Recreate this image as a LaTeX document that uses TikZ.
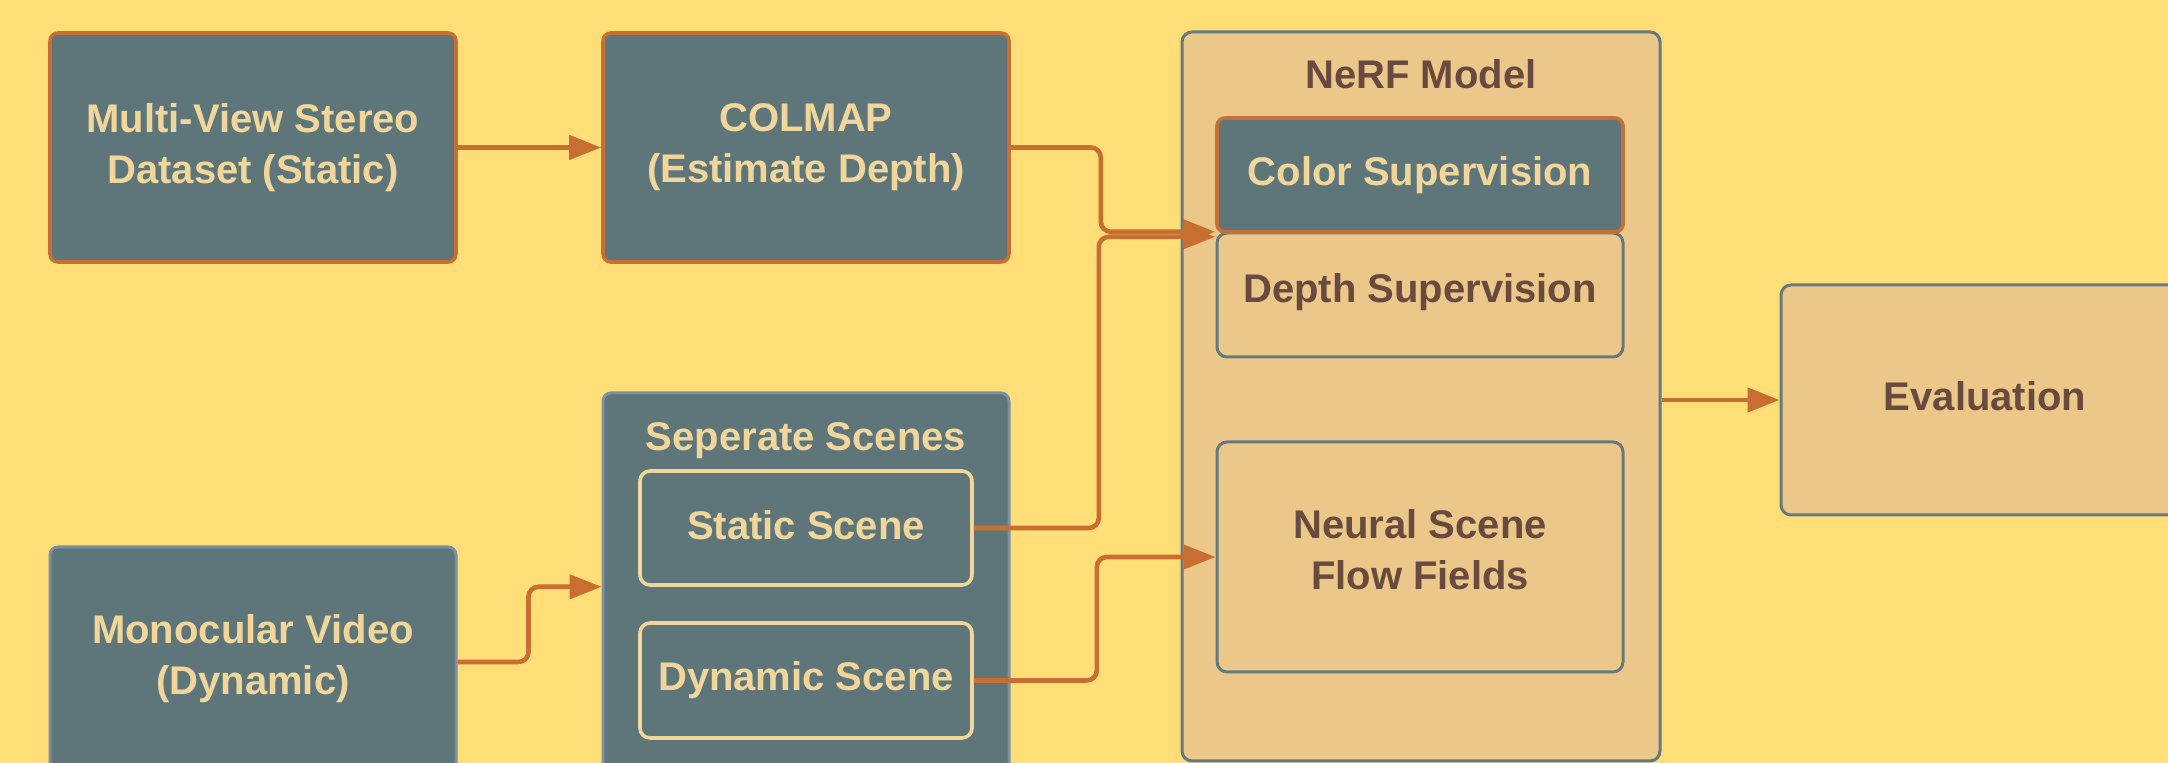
\documentclass[tikz,border=0pt]{standalone}
\usepackage{fontspec}
\setmainfont{Liberation Sans}
\usetikzlibrary{arrows.meta}
\definecolor{bgc}{RGB}{255,221,119}
\definecolor{slate}{RGB}{94,118,121}
\definecolor{orangeb}{RGB}{197,112,52}
\definecolor{arrowc}{RGB}{200,110,48}
\definecolor{tanfill}{RGB}{235,200,138}
\definecolor{browntxt}{RGB}{105,74,62}
\definecolor{steel}{RGB}{100,122,128}
\definecolor{lighttxt}{RGB}{240,214,155}
\definecolor{grayblue}{RGB}{125,142,160}
\begin{document}
\begin{tikzpicture}[x=0.5pt,y=-0.5pt,
  every node/.style={font=\fontsize{20}{25.5}\selectfont\bfseries, inner sep=0pt, align=center},
  darkbox/.style={draw=orangeb, line width=1.8pt, fill=slate, text=lighttxt, rounded corners=4pt},
  darkgray/.style={draw=grayblue, line width=1.5pt, fill=slate, text=lighttxt, rounded corners=4pt},
  scenebox/.style={draw=lighttxt, line width=1.8pt, fill=slate, text=lighttxt, rounded corners=5pt},
  tanbox/.style={draw=steel, line width=1.5pt, fill=tanfill, text=browntxt, rounded corners=5pt},
  conn/.style={draw=arrowc, line width=2.3pt, rounded corners=5pt, -{Triangle[length=16pt,width=12pt]}}
]
\fill[bgc] (0,0) rectangle (2168,763);
\useasboundingbox (0,0) rectangle (2168,763);

% left column
\node[darkbox, minimum width=203pt, minimum height=114.5pt] (mv) at (253,147.5) {Multi-View Stereo\\Dataset (Static)};
\node[darkbox, minimum width=203pt, minimum height=114.5pt] (colmap) at (806,147.5) {COLMAP\\(Estimate Depth)};
\node[darkgray, minimum width=203pt, minimum height=112pt] (mono) at (253,659) {Monocular Video\\(Dynamic)};

% separate scenes container
\node[darkgray, minimum width=203pt, minimum height=203.5pt] (sep) at (806,596.5) {};
\node[text=lighttxt] (septitle) at (806,441) {Seperate Scenes};
\node[scenebox, minimum width=166pt, minimum height=57pt] (static) at (806,528) {};
\node[text=lighttxt] (statictxt) at (806,525) {Static Scene};
\node[scenebox, minimum width=166pt, minimum height=57.5pt] (dyn) at (806,680.5) {Dynamic Scene};

% NeRF container
\node[tanbox, minimum width=239pt, minimum height=364.5pt] (nerf) at (1421,396.5) {};
\node[text=browntxt] (nerftitle) at (1421,74) {NeRF Model};
\node[tanbox, minimum width=203pt, minimum height=62pt] (depth) at (1420,295) {};
\node[text=browntxt] (depthtxt) at (1420,292) {Depth Supervision};
\node[darkbox, minimum width=203pt, minimum height=57pt] (color) at (1420,175) {Color Supervision};
\node[tanbox, minimum width=203pt, minimum height=115pt] (neural) at (1420,557) {};
\node[text=browntxt] (neuraltxt) at (1420,550) {Neural Scene\\Flow Fields};

% evaluation
\node[tanbox, minimum width=204pt, minimum height=115pt] (eval) at (1985,400) {};
\node[text=browntxt] (evaltxt) at (1985,396) {Evaluation};

% connectors
\draw[conn] (mv.east) -- (colmap.west);
\draw[conn] (colmap.east) -- ++(90,0) |- ([yshift=1pt]color.south west);
\draw[conn] (static.east) -- ++(125,0) |- ([yshift=-1.5pt]color.south west);
\draw[conn] (mono.east |- 0,662) -- ++(71,0) |- (sep.west |- static.south);
\draw[conn] (dyn.east) -- ++(123,0) |- (neural.west);
\draw[conn] (nerf.east |- eval.west) -- (eval.west);
\end{tikzpicture}
\end{document}
